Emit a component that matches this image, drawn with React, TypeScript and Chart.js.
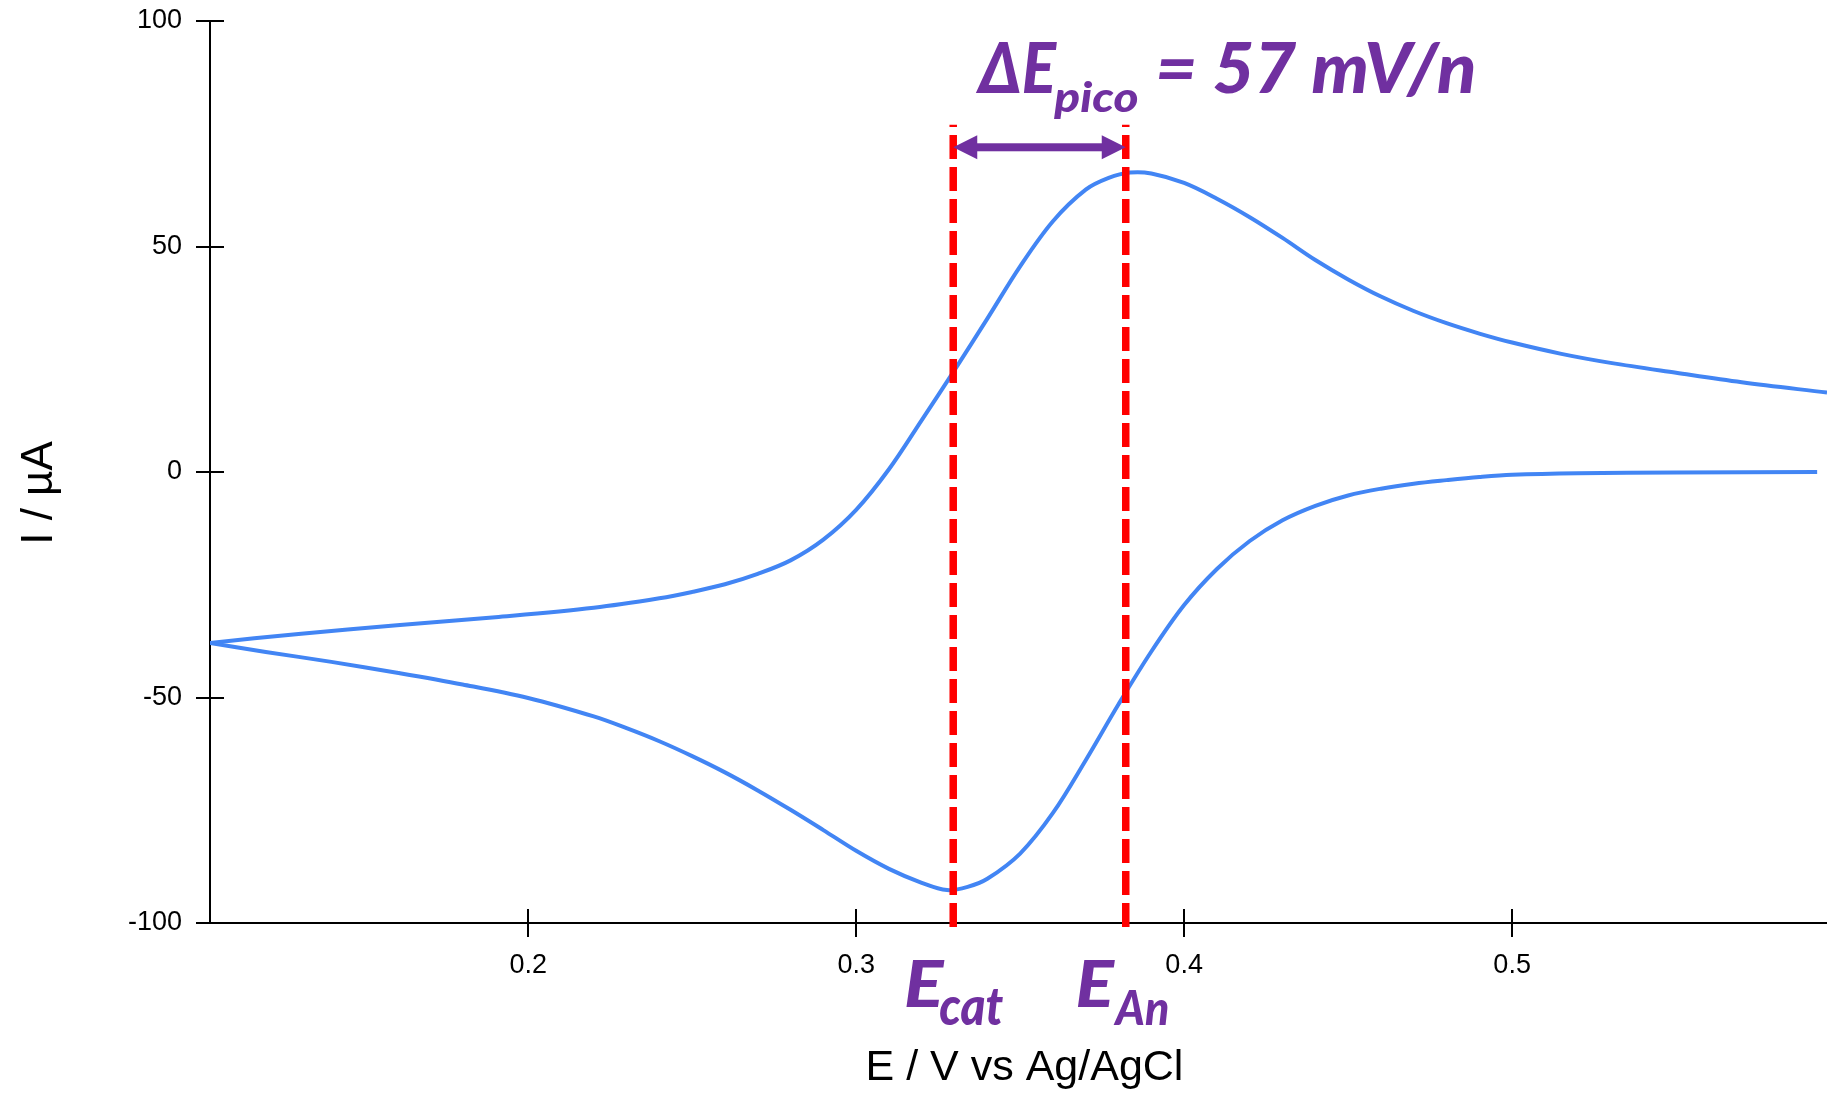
import React, { useEffect, useRef } from "react";
import { Chart, registerables } from "chart.js";

Chart.register(...registerables);

// ---- data (E in V vs Ag/AgCl, I in µA) ----
const upperE = [0.103, 0.13, 0.16, 0.19, 0.22, 0.24, 0.25, 0.26, 0.27, 0.28, 0.29, 0.3, 0.31, 0.32, 0.33, 0.34, 0.35, 0.36, 0.37, 0.377, 0.3835, 0.39, 0.4, 0.41, 0.42, 0.43, 0.44, 0.45, 0.46, 0.47, 0.48, 0.49, 0.5, 0.515, 0.53, 0.55, 0.57, 0.596];
const upperI = [-37.9, -35.9, -34.0, -32.2, -30.1, -28.0, -26.6, -24.9, -22.6, -19.6, -15.0, -8.4, 0.6, 11.5, 22.6, 34.0, 45.6, 55.6, 62.6, 65.2, 66.4, 66.2, 64.1, 60.6, 56.5, 51.9, 47.0, 42.7, 38.9, 35.7, 33.0, 30.7, 28.7, 26.2, 24.2, 22.0, 19.9, 17.6];
const lowerE = [0.103, 0.12, 0.14, 0.16, 0.18, 0.2, 0.22, 0.23, 0.24, 0.25, 0.26, 0.27, 0.28, 0.29, 0.3, 0.31, 0.32, 0.3277, 0.334, 0.34, 0.35, 0.36, 0.37, 0.38, 0.39, 0.4, 0.41, 0.42, 0.43, 0.44, 0.45, 0.46, 0.47, 0.48, 0.49, 0.5, 0.52, 0.55, 0.593];
const lowerI = [-37.9, -39.9, -42.1, -44.5, -47.1, -50.1, -54.2, -56.8, -59.7, -63.0, -66.6, -70.6, -74.9, -79.4, -84.0, -88.0, -91.1, -92.7, -92.0, -90.2, -84.6, -75.6, -63.9, -51.5, -39.8, -29.5, -21.5, -15.3, -10.7, -7.5, -5.2, -3.7, -2.6, -1.8, -1.1, -0.6, -0.25, -0.1, 0.0];

const xTickValues = [0.2, 0.3, 0.4, 0.5];
const yTickValues = [-100, -50, 0, 50, 100];
const xRange = [0.103, 0.596];
const yRange = [-100, 100];
const xTitle = "E / V vs Ag/AgCl";
const yTitle = "I / µA";

// annotation values
const markerE = [0.3296, 0.3822]; // E_cat, E_An
const markerTop = 77;
const arrowLevel = 72;
const deltaLabel = ["ΔE", "pico", "= 57 mV/n"];
const catLabel = ["E", "cat"];
const anLabel = ["E", "An"];

const BLUE = "#4285F4";
const PURPLE = "#7030A0";
const RED = "#FF0000";
const AXIS_FONT = "'Liberation Sans', Arial, Helvetica, sans-serif";
const ANNOT_FONT = "Lato, 'Open Sans', sans-serif";

// a piece of rich text: its ink starts dx px from the anchor and is fitted to w px wide
type Piece = { text: string; size: number; dy: number; dx: number; w: number };

function drawPieces(ctx: CanvasRenderingContext2D, pieces: Piece[], anchorX: number, baseline: number) {
  ctx.save();
  ctx.fillStyle = PURPLE;
  ctx.textAlign = "left";
  ctx.textBaseline = "alphabetic";
  pieces.forEach((p) => {
    ctx.font = `italic 900 ${p.size}px ${ANNOT_FONT}`;
    const m = ctx.measureText(p.text);
    const inkL = -m.actualBoundingBoxLeft;
    const inkW = m.actualBoundingBoxRight + m.actualBoundingBoxLeft;
    const sx = p.w / inkW;
    ctx.save();
    ctx.translate(anchorX + p.dx, baseline + p.dy);
    ctx.scale(sx, 1);
    ctx.fillText(p.text, -inkL, 0);
    ctx.restore();
  });
  ctx.restore();
}

const annotations = {
  id: "cvAnnotations",
  afterDraw(chart: any) {
    const ctx: CanvasRenderingContext2D = chart.ctx;
    const x = chart.scales.x;
    const y = chart.scales.y;
    const area = chart.chartArea;

    ctx.save();
    // inner halves of the crossing tick marks
    ctx.strokeStyle = "#000";
    ctx.lineWidth = 2;
    yTickValues.forEach((v) => {
      const py = Math.round(y.getPixelForValue(v));
      ctx.beginPath();
      ctx.moveTo(area.left, py);
      ctx.lineTo(area.left + 14, py);
      ctx.stroke();
    });
    xTickValues.forEach((v) => {
      const px = Math.round(x.getPixelForValue(v));
      ctx.beginPath();
      ctx.moveTo(px, area.bottom);
      ctx.lineTo(px, area.bottom - 14);
      ctx.stroke();
    });

    // red dashed marker lines
    const yBottom = y.getPixelForValue(yRange[0]) + 4;
    const yTop = y.getPixelForValue(markerTop);
    ctx.strokeStyle = RED;
    ctx.lineWidth = 7.5;
    ctx.lineCap = "butt";
    ctx.setLineDash([24, 8]);
    markerE.forEach((e) => {
      const px = x.getPixelForValue(e);
      ctx.beginPath();
      ctx.moveTo(px, yBottom);
      ctx.lineTo(px, yTop);
      ctx.stroke();
    });
    ctx.setLineDash([]);

    // double-headed arrow
    const xa = x.getPixelForValue(markerE[0]);
    const xb = x.getPixelForValue(markerE[1]);
    const ya = y.getPixelForValue(arrowLevel);
    const head = 24;
    const halfH = 12;
    ctx.fillStyle = PURPLE;
    ctx.fillRect(xa + head - 1, ya - 4, xb - xa - 2 * head + 2, 8);
    ctx.beginPath();
    ctx.moveTo(xa, ya);
    ctx.lineTo(xa + head, ya - halfH);
    ctx.lineTo(xa + head, ya + halfH);
    ctx.closePath();
    ctx.fill();
    ctx.beginPath();
    ctx.moveTo(xb, ya);
    ctx.lineTo(xb - head, ya - halfH);
    ctx.lineTo(xb - head, ya + halfH);
    ctx.closePath();
    ctx.fill();

    // labels
    drawPieces(
      ctx,
      [
        { text: deltaLabel[0], size: 70, dy: 0, dx: 22, w: 82 },
        { text: deltaLabel[1], size: 42, dy: 19, dx: 100, w: 84 },
        { text: deltaLabel[2], size: 70, dy: 0, dx: 205, w: 316 },
      ],
      xa,
      area.top + 72
    );
    drawPieces(
      ctx,
      [
        { text: catLabel[0], size: 64, dy: 0, dx: -47, w: 39 },
        { text: catLabel[1], size: 54, dy: 18, dx: -13, w: 63 },
      ],
      xa,
      area.bottom + 84
    );
    drawPieces(
      ctx,
      [
        { text: anLabel[0], size: 64, dy: 0, dx: -48, w: 38 },
        { text: anLabel[1], size: 47, dy: 18, dx: -13, w: 55 },
      ],
      xb,
      area.bottom + 84
    );

    // axis titles
    ctx.fillStyle = "#000";
    ctx.textAlign = "center";
    ctx.textBaseline = "alphabetic";
    ctx.font = `43px ${AXIS_FONT}`;
    ctx.fillText(xTitle, (area.left + area.right) / 2 + 6, area.bottom + 157);
    ctx.translate(52, (area.top + area.bottom) / 2 + 21);
    ctx.rotate(-Math.PI / 2);
    ctx.font = `44px ${AXIS_FONT}`;
    ctx.fillText(yTitle, 0, 0);
    ctx.restore();
  },
};

export default function App() {
  const ref = useRef<HTMLCanvasElement | null>(null);

  useEffect(() => {
    document.body.style.margin = "0";
    document.body.style.overflow = "hidden";
    const canvas = ref.current;
    if (!canvas) return;
    const lineStyle = {
      borderColor: BLUE,
      borderWidth: 4,
      pointRadius: 0,
      fill: false,
      tension: 0.35,
    };
    const chart = new Chart(canvas, {
      type: "line",
      data: {
        datasets: [
          { ...lineStyle, data: upperE.map((e, i) => ({ x: e, y: upperI[i] })) },
          { ...lineStyle, data: lowerE.map((e, i) => ({ x: e, y: lowerI[i] })) },
        ],
      },
      options: {
        responsive: false,
        animation: false,
        devicePixelRatio: 1,
        layout: { padding: { top: 21, right: 0, bottom: 0, left: 0 } },
        plugins: { legend: { display: false }, tooltip: { enabled: false } },
        scales: {
          x: {
            type: "linear",
            min: xRange[0],
            max: xRange[1],
            afterBuildTicks: (s: any) => {
              s.ticks = xTickValues.map((v) => ({ value: v }));
            },
            afterFit: (s: any) => {
              s.height = 170;
              s.paddingLeft = 0;
              s.paddingRight = 0;
            },
            grid: { drawOnChartArea: false, drawTicks: true, tickLength: 14, color: "#000", lineWidth: 2 },
            border: { display: true, color: "#000", width: 2 },
            ticks: {
              color: "#000",
              font: { family: AXIS_FONT, size: 27 },
              padding: 12,
              maxRotation: 0,
              autoSkip: false,
              callback: (v: any) => Number(v).toFixed(1),
            },
            title: { display: false },
          },
          y: {
            type: "linear",
            min: yRange[0],
            max: yRange[1],
            afterBuildTicks: (s: any) => {
              s.ticks = yTickValues.map((v) => ({ value: v }));
            },
            afterFit: (s: any) => {
              s.width = 210;
              s.paddingTop = 0;
              s.paddingBottom = 0;
            },
            grid: { drawOnChartArea: false, drawTicks: true, tickLength: 14, color: "#000", lineWidth: 2 },
            border: { display: true, color: "#000", width: 2 },
            ticks: {
              color: "#000",
              font: { family: AXIS_FONT, size: 27 },
              padding: 14,
              autoSkip: false,
              callback: (v: any) => String(v),
            },
            title: { display: false },
          },
        },
      },
      plugins: [annotations],
    } as any);
    return () => chart.destroy();
  }, []);

  return (
    <div style={{ position: "absolute", left: 0, top: 0, width: 1827, height: 1093, background: "#fff" }}>
      <canvas ref={ref} width={1827} height={1093} style={{ display: "block" }} />
    </div>
  );
}
